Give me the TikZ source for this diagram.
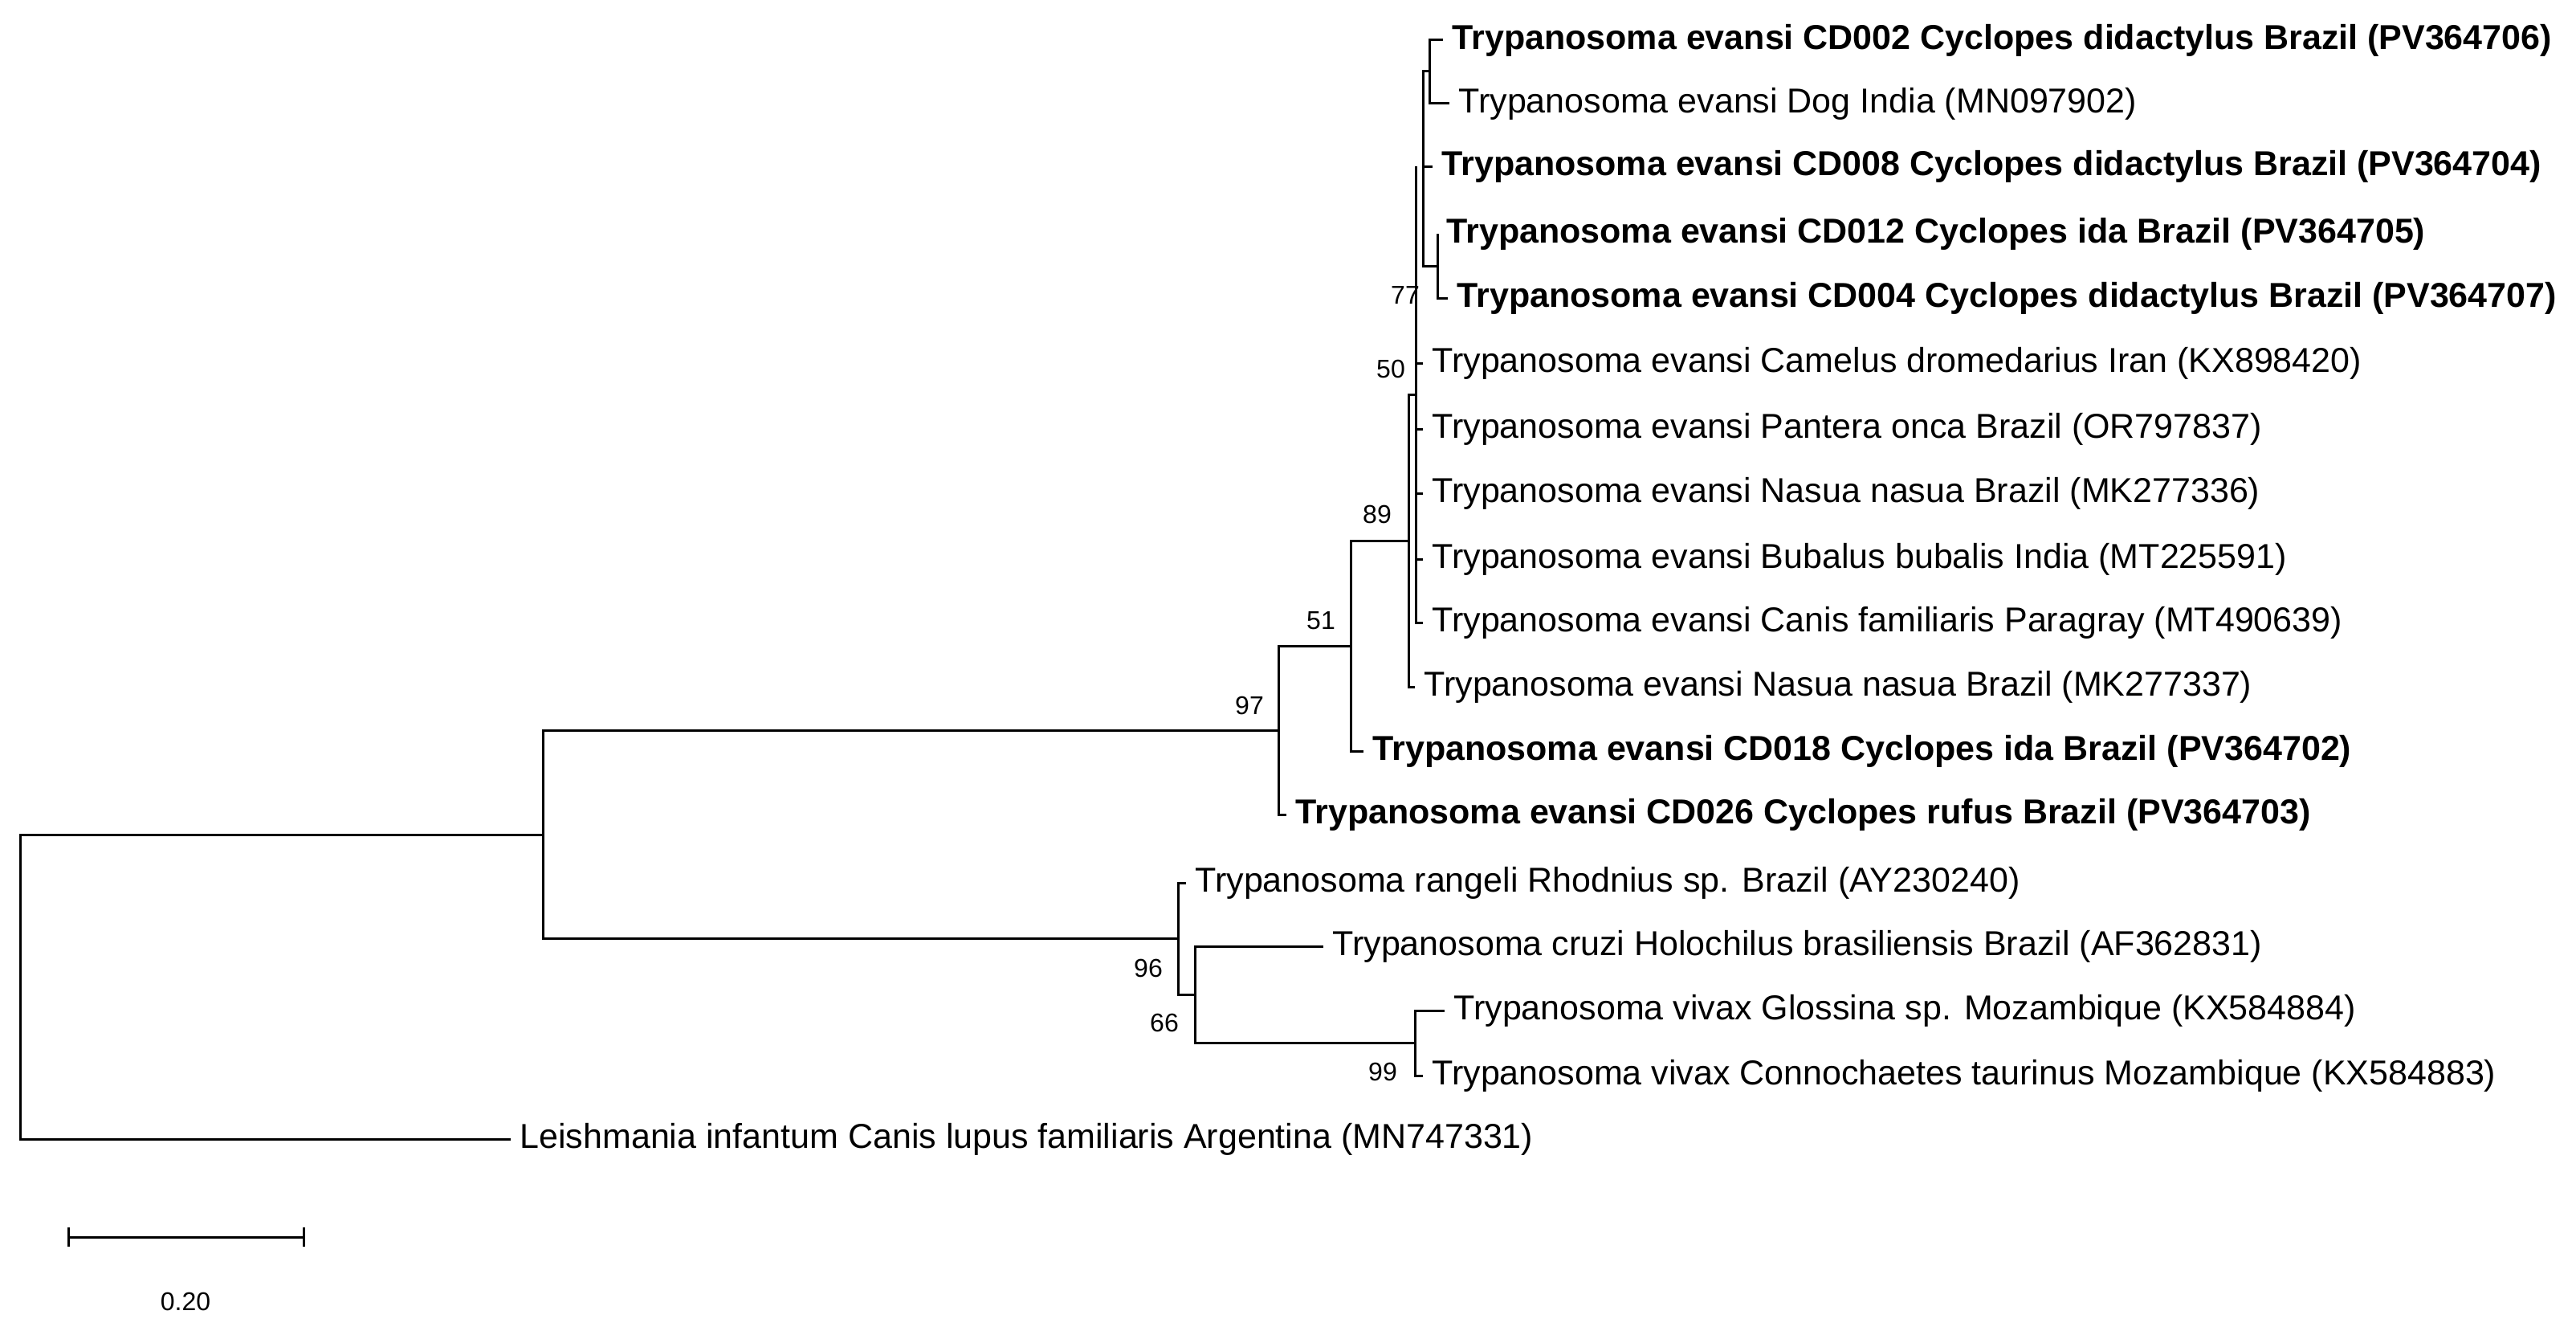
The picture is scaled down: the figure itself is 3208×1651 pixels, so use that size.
\documentclass[tikz,border=0pt]{standalone}
\usepackage{fontspec}
\setmainfont{Liberation Sans}
\begin{document}
\begin{tikzpicture}[x=1pt,y=-1pt,line width=3pt,
  tip/.style={anchor=west,inner xsep=10pt,inner ysep=0pt,font=\fontsize{43}{50}\selectfont},
  btip/.style={tip,font=\fontsize{43}{50}\selectfont\bfseries},
  boot/.style={font=\fontsize{32}{38}\selectfont,inner sep=0pt}]
\useasboundingbox (0,0) rectangle (3208,1651);
% tips
\node[btip] (t1) at (1797,50) {Trypanosoma evansi CD002 Cyclopes didactylus Brazil (PV364706)};
\node[tip] (t2) at (1805,129) {Trypanosoma evansi Dog India (MN097902)};
\node[btip] (t3) at (1784,207) {Trypanosoma evansi CD008 Cyclopes didactylus Brazil (PV364704)};
\node[btip] (t4) at (1790,291) {Trypanosoma evansi CD012 Cyclopes ida Brazil (PV364705)};
\node[btip] (t5) at (1803,371) {Trypanosoma evansi CD004 Cyclopes didactylus Brazil (PV364707)};
\node[tip] (t6) at (1772,452) {Trypanosoma evansi Camelus dromedarius Iran (KX898420)};
\node[tip] (t7) at (1772,534) {Trypanosoma evansi Pantera onca Brazil (OR797837)};
\node[tip] (t8) at (1772,614) {Trypanosoma evansi Nasua nasua Brazil (MK277336)};
\node[tip] (t9) at (1772,696) {Trypanosoma evansi Bubalus bubalis India (MT225591)};
\node[tip] (t10) at (1772,775) {Trypanosoma evansi Canis familiaris Paragray (MT490639)};
\node[tip] (t11) at (1762,855) {Trypanosoma evansi Nasua nasua Brazil (MK277337)};
\node[btip] (t12) at (1698,935) {Trypanosoma evansi CD018 Cyclopes ida Brazil (PV364702)};
\node[btip] (t13) at (1602,1014) {Trypanosoma evansi CD026 Cyclopes rufus Brazil (PV364703)};
\node[tip] (t14) at (1477,1099) {Trypanosoma rangeli Rhodnius sp. Brazil (AY230240)};
\node[tip] (t15) at (1648,1178) {Trypanosoma cruzi Holochilus brasiliensis Brazil (AF362831)};
\node[tip] (t16) at (1799,1258) {Trypanosoma vivax Glossina sp. Mozambique (KX584884)};
\node[tip] (t17) at (1772,1339) {Trypanosoma vivax Connochaetes taurinus Mozambique (KX584883)};
\node[tip] (t18) at (636,1418) {Leishmania infantum Canis lupus familiaris Argentina (MN747331)};
% internal nodes
\coordinate (A) at (1780,89);
\coordinate (C) at (1790,331);
\coordinate (B) at (1772,207);
\coordinate (D) at (1763,491);
\coordinate (E) at (1754,673);
\coordinate (F) at (1682,804);
\coordinate (G) at (1592,909);
\coordinate (V) at (1762,1298);
\coordinate (W) at (1488,1238);
\coordinate (H) at (1467,1168);
\coordinate (I) at (676,1039);
\coordinate (R) at (25,1039);
% branches
\draw (t1.west) -| (A) |- (t2.west);
\draw (t4.west) -| (C) |- (t5.west);
\draw (A) -| (B) |- (C);
\draw (B) -- (t3.west);
\draw (B -| D) -| (D |- t10) -- (t10.west);
\draw (t6.west) -- (t6.west -| D);
\draw (t7.west) -- (t7.west -| D);
\draw (t8.west) -- (t8.west -| D);
\draw (t9.west) -- (t9.west -| D);
\draw (D) -| (E) |- (t11.west);
\draw (E) -| (F) |- (t12.west);
\draw (F) -| (G) |- (t13.west);
\draw (t16.west) -| (V) |- (t17.west);
\draw (t15.west) -| (W) |- (V);
\draw (t14.west) -| (H) |- (W);
\draw (G) -| (I) |- (H);
\draw (I) -| (R) |- (t18.west);
% bootstrap
\node[boot] (b77) at (1750,367) {77};
\node[boot] (b50) at (1732,459) {50};
\node[boot] (b89) at (1715,640) {89};
\node[boot] (b51) at (1645,773) {51};
\node[boot] (b97) at (1556,878) {97};
\node[boot] (b96) at (1430,1205) {96};
\node[boot] (b66) at (1450,1273) {66};
\node[boot] (b99) at (1722,1334) {99};
% scale bar
\coordinate (s1) at (85,1540);
\coordinate (s2) at (378,1540);
\draw (s1) -- (s2);
\draw ([yshift=-12pt]s1) -- ([yshift=12pt]s1);
\draw ([yshift=-12pt]s2) -- ([yshift=12pt]s2);
\node[boot] (sl) at (231,1620) {0.20};
\end{tikzpicture}
\end{document}
